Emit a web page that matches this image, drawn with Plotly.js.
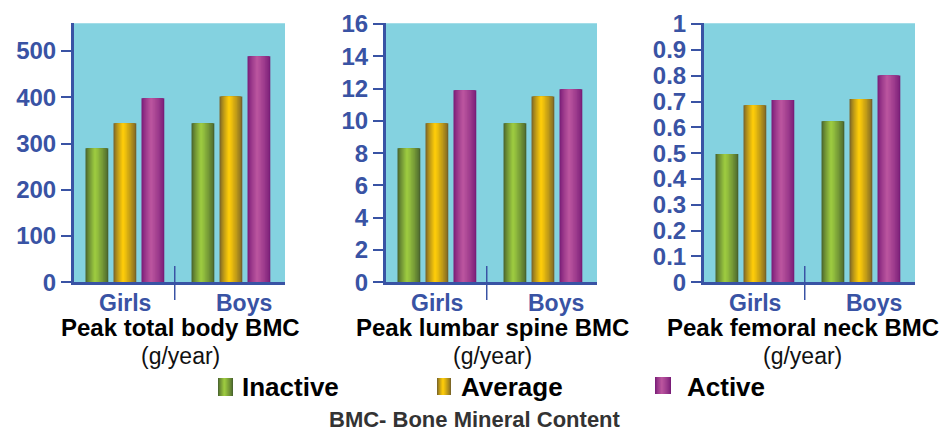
<!DOCTYPE html>
<html><head><meta charset="utf-8">
<script src="https://cdn.plot.ly/plotly-3.0.1.min.js"></script>
<style>html,body{margin:0;padding:0;background:#fff}#chart{width:951px;height:433px}</style>
</head><body><div id="chart"></div>
<script>
// ---- data ----
const categories = ['Girls', 'Boys'];
const seriesNames = ['Inactive', 'Average', 'Active'];
const panelTitles = ['Peak total body BMC', 'Peak lumbar spine BMC', 'Peak femoral neck BMC'];
const unitLabel = '(g/year)';
const footNote = 'BMC- Bone Mineral Content';

const totalBodyInactive = [290, 344];
const totalBodyAverage  = [344, 402];
const totalBodyActive   = [398, 489];

const lumbarInactive = [8.3, 9.85];
const lumbarAverage  = [9.85, 11.5];
const lumbarActive   = [11.9, 11.95];

const femoralInactive = [0.497, 0.624];
const femoralAverage  = [0.686, 0.71];
const femoralActive   = [0.706, 0.801];

const yRanges = [[0, 560], [0, 16.04], [0, 1.003]];
const yDticks = [100, 2, 0.1];

// ---- styles ----
const W = 951, H = 433;
const BLUE = '#3953a4';
const BG = '#84d2e0';
const FONT = 'Liberation Sans, Arial, Helvetica, sans-serif';
const edgeColors   = [[74, 101, 46], [122, 100, 40], [122, 30, 120]];
const centerColors = [[156, 201, 64], [252, 203, 10], [186, 84, 158]];
const X = px => px / W;
const Y = px => 1 - px / H;

const panels = [
  {series: [totalBodyInactive, totalBodyAverage, totalBodyActive], dom: [74, 285]},
  {series: [lumbarInactive, lumbarAverage, lumbarActive], dom: [386, 597]},
  {series: [femoralInactive, femoralAverage, femoralActive], dom: [704, 915]}
];

function mix(a, b, t) {
  return 'rgb(' + a.map((v, i) => Math.round(v + (b[i] - v) * t)).join(',') + ')';
}

const K = 10, P = 0.42, BAR_W = 0.215, STEP = 0.264;
const data = [];
const layout = {
  width: W, height: H,
  margin: {l: 0, r: 0, t: 0, b: 0},
  paper_bgcolor: '#ffffff',
  barmode: 'overlay',
  showlegend: false,
  font: {family: FONT},
  shapes: [],
  annotations: []
};

panels.forEach((pn, pi) => {
  const sfx = pi === 0 ? '' : String(pi + 1);
  const xa = 'x' + sfx, ya = 'y' + sfx;
  pn.series.forEach((vals, si) => {
    const start = -BAR_W / 2 + (si - 1) * STEP;
    for (let k = 0; k < K; k++) {
      const f = k / K;
      const left = P * f, right = 1 - (1 - P) * f;
      data.push({
        type: 'bar', x: categories, y: vals,
        offset: start + left * BAR_W, width: (right - left) * BAR_W,
        marker: {color: mix(edgeColors[si], centerColors[si], Math.pow(k / (K - 1), 0.8)), line: {width: 0}},
        xaxis: xa, yaxis: ya, showlegend: false, hoverinfo: 'skip', name: seriesNames[si]
      });
    }
  });
  layout['xaxis' + sfx] = {
    domain: [X(pn.dom[0]), X(pn.dom[1])], anchor: ya, type: 'category',
    range: [-0.48, 1.51], showgrid: false, zeroline: false, showticklabels: false,
    ticks: '', showline: true, linecolor: BLUE, linewidth: 3, fixedrange: true
  };
  layout['yaxis' + sfx] = {
    domain: [Y(282.3), Y(23.3)], anchor: xa, range: yRanges[pi], dtick: yDticks[pi], tick0: 0,
    showgrid: false, zeroline: false, showline: true, linecolor: BLUE, linewidth: 3,
    ticks: 'outside', ticklen: 10, tickwidth: 2, tickcolor: BLUE,
    tickfont: {family: FONT, size: 24, color: BLUE, weight: 700}, fixedrange: true
  };
  // plot background
  layout.shapes.push({type: 'rect', xref: xa + ' domain', yref: ya + ' domain', x0: 0, x1: 1, y0: 0, y1: 1,
    fillcolor: BG, line: {width: 0}, layer: 'below'});
  // divider between groups
  layout.shapes.push({type: 'line', xref: xa, yref: 'paper', x0: 0.47, x1: 0.47, y0: Y(266), y1: Y(300),
    line: {color: BLUE, width: 1.5}});
  // group labels
  [0, 1.12].forEach((xv, ci) => {
    layout.annotations.push({xref: xa, yref: 'paper', x: xv, y: Y(302.5), xanchor: 'center', yanchor: 'middle',
      text: categories[ci], showarrow: false, font: {family: FONT, size: 23, color: BLUE, weight: 700}});
  });
});

// panel titles
[180.5, 492, 802.5].forEach((cx, i) => {
  layout.annotations.push({xref: 'paper', yref: 'paper', x: X(cx), y: Y(327), xanchor: 'center', yanchor: 'middle',
    text: panelTitles[i], showarrow: false, font: {family: FONT, size: 24, color: '#000', weight: 700}});
  layout.annotations.push({xref: 'paper', yref: 'paper', x: X(cx), y: Y(356), xanchor: 'center', yanchor: 'middle',
    text: unitLabel, showarrow: false, font: {family: FONT, size: 23, color: '#111'}});
});

// legend
const legendBoxes = [[218, 233, 378, 396], [437, 451, 378, 395], [655, 671, 377, 394]];
const legendText = [240, 459, 685];
legendBoxes.forEach((b, si) => {
  for (let k = 0; k < K; k++) {
    const f = k / K;
    const left = P * f, right = 1 - (1 - P) * f;
    layout.shapes.push({type: 'rect', xref: 'paper', yref: 'paper',
      x0: X(b[0] + left * (b[1] - b[0])), x1: X(b[0] + right * (b[1] - b[0])), y0: Y(b[3]), y1: Y(b[2]),
      fillcolor: mix(edgeColors[si], centerColors[si], Math.pow(k / (K - 1), 0.8)), line: {width: 0}});
  }
  layout.annotations.push({xref: 'paper', yref: 'paper', x: X(legendText[si]), y: Y(387), xanchor: 'left', yanchor: 'middle',
    text: seriesNames[si], showarrow: false, font: {family: FONT, size: 26, color: '#000', weight: 700}});
});

// footnote
layout.annotations.push({xref: 'paper', yref: 'paper', x: X(475), y: 0, xanchor: 'center', yanchor: 'bottom',
  borderpad: 0, text: footNote, showarrow: false, font: {family: FONT, size: 22, color: '#333', weight: 700}});

Plotly.newPlot('chart', data, layout, {displayModeBar: false, staticPlot: true});
</script></body></html>
